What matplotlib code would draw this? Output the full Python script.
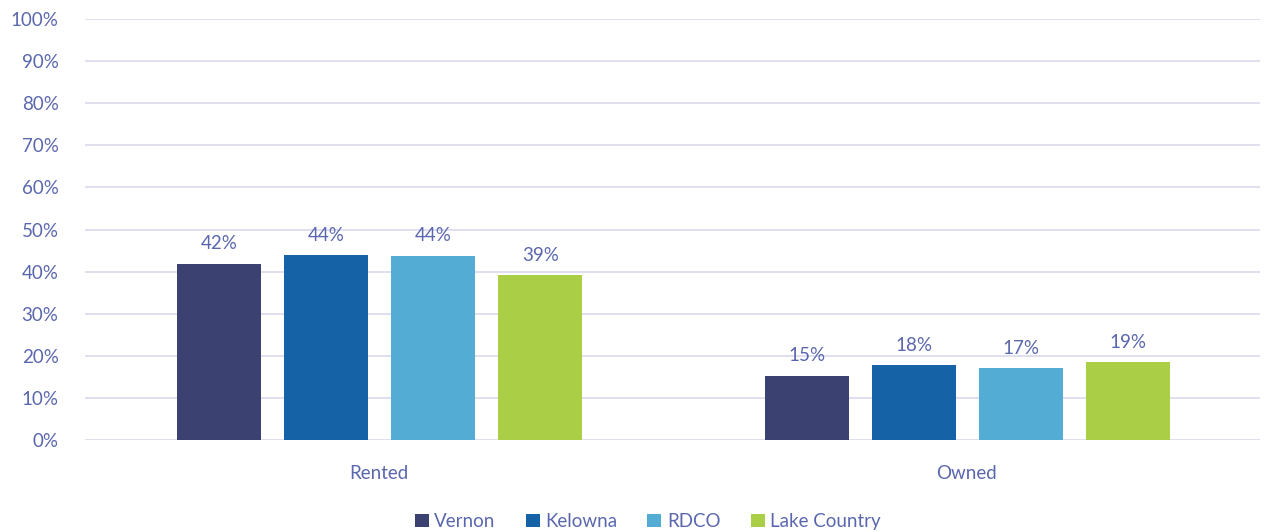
import matplotlib
matplotlib.use("Agg")
import matplotlib.pyplot as plt
import numpy as np

categories = ["Rented", "Owned"]
series = ["Vernon", "Kelowna", "RDCO", "Lake Country"]
vernon = [41.9, 15.3]
kelowna = [44.0, 17.9]
rdco = [43.8, 17.1]
lake_country = [39.2, 18.6]
yticks = [0, 10, 20, 30, 40, 50, 60, 70, 80, 90, 100]

colors = ["#3b4170", "#1562a6", "#52acd4", "#aacf47"]
text_color = "#5a67ae"
grid_color = "#dcdcee"

plt.rcParams["font.family"] = ["Lato", "DejaVu Sans"]
fs = 13.5

fig = plt.figure(figsize=(12.7, 5.32), dpi=100)
ax = fig.add_axes([0.0669, 0.1729, 0.9251, 0.7914])

x = np.arange(len(categories))
step = 0.182
width = 0.143
all_values = [vernon, kelowna, rdco, lake_country]
handles = []
for i, (name, vals, c) in enumerate(zip(series, all_values, colors)):
    offs = (i - 1.5) * step
    bars = ax.bar(x + offs + 0.002, vals, width=width, color=c, label=name, zorder=3)
    handles.append(bars)
    for xi, v in zip(x + offs + 0.002, vals):
        ax.annotate(f"{v:.0f}%", (xi, v), xytext=(0, 8), textcoords="offset points",
                    ha="center", va="bottom", color=text_color, fontsize=fs)

ax.set_xlim(-0.5, 1.5)
ax.set_ylim(0, 100)
ax.set_yticks(yticks)
ax.set_yticklabels([f"{t}%" for t in yticks])
ax.set_xticks(x)
ax.set_xticklabels(categories)
ax.tick_params(axis="both", length=0, colors=text_color, labelsize=fs)
ax.tick_params(axis="y", pad=19)
ax.tick_params(axis="x", pad=18)
ax.yaxis.grid(True, color=grid_color, linewidth=1.3, zorder=0)
for s in ax.spines.values():
    s.set_visible(False)

leg = fig.legend(handles=handles, labels=series, loc="lower center", ncol=4,
                 bbox_to_anchor=(0.51, -0.028), frameon=False, fontsize=fs,
                 handlelength=0.75, handleheight=0.75, handletextpad=0.3,
                 columnspacing=1.6)
for t in leg.get_texts():
    t.set_color(text_color)

fig.savefig("out.png", dpi=100)
